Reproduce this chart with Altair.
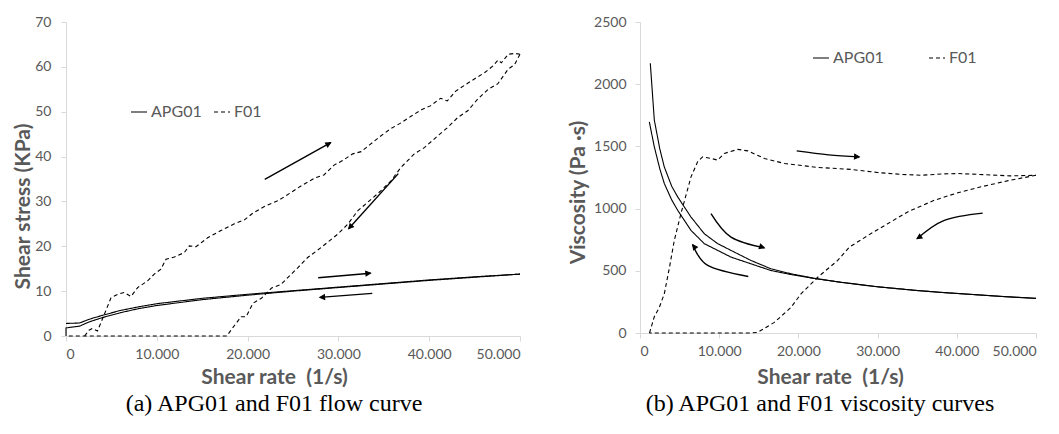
import math
import altair as alt
import pandas as pd

# ------------------------------------------------------------------ data
RATE_MAX = 50000
STRESS_MAX = 70
VISC_MAX = 2500
rate_ticks = [0, 10000, 20000, 30000, 40000, 50000]
stress_ticks = [0, 10, 20, 30, 40, 50, 60, 70]
visc_ticks = [0, 500, 1000, 1500, 2000, 2500]
series_names = ["APG01", "F01"]

# (a) flow curves: shear stress (kPa) vs shear rate (1/s)
apg_up_rate = [0, 1500, 2500, 4000, 6000, 8000, 10000, 15000, 20000, 25000, 30000, 35000, 40000, 45000, 50000]
apg_up_stress = [2.8, 2.9, 3.7, 4.6, 5.7, 6.5, 7.2, 8.4, 9.3, 10.1, 10.9, 11.7, 12.5, 13.2, 13.8]
apg_down_rate = [0, 0, 1500, 2500, 4000, 6000, 8000, 10000, 15000, 20000, 25000, 30000, 35000, 40000, 45000, 50000]
apg_down_stress = [0, 1.8, 2.2, 3.1, 4.1, 5.2, 6.1, 6.8, 8.1, 9.1, 10.0, 10.8, 11.6, 12.4, 13.1, 13.8]

f01_up_rate = [2048, 2532, 2904, 3462, 3855, 4956, 5690, 6424, 7158, 7891, 8993, 9724, 10450, 11013, 11930,
               13030, 13580, 14316, 15602, 17051, 18540, 19657, 20588, 21891, 23381, 24870, 25987, 27476,
               28407, 29524, 30455, 31572, 32502, 33433, 34550, 35667, 36970, 38086, 39203, 40134, 41251,
               41995, 42926, 44043, 44974, 46091, 47021, 47580, 47952, 48697, 49441, 50000]
f01_up_stress = [0, 1.3, 1.7, 1.1, 3.0, 8.5, 9.3, 9.7, 8.8, 10.8, 12.3, 13.8, 14.9, 17.1, 17.6,
                 18.6, 20.1, 19.9, 21.9, 23.5, 25.0, 25.9, 27.4, 28.9, 30.2, 32.1, 33.6, 35.3,
                 35.9, 38.1, 39.1, 40.6, 41.1, 42.6, 44.4, 46.1, 47.6, 49.1, 50.5, 51.3, 53.0,
                 52.4, 54.6, 56.1, 57.3, 58.7, 60.2, 61.5, 60.9, 62.8, 63.0, 62.8]
f01_down_rate = [50000, 49400, 48700, 47545, 46500, 45338, 44240, 43138, 42037, 40936, 39468, 38357,
                 36893, 35792, 34691, 33224, 32123, 31023, 29922, 28084, 26614, 25517, 24416, 23678,
                 22637, 21519, 20588, 19843, 19285, 18727, 18168, 17720, 0]
f01_down_stress = [62.8, 60.5, 59.5, 56.2, 55.0, 52.8, 50.2, 48.7, 46.5, 44.6, 42.0, 40.6,
                   37.6, 34.6, 32.4, 29.8, 27.9, 24.9, 22.7, 19.7, 17.5, 15.2, 13.0, 11.5,
                   10.7, 8.4, 7.3, 4.3, 4.3, 2.8, 1.3, 0, 0]

# (b) viscosity curves: viscosity (Pa s) vs shear rate (1/s)
apg_v_up_rate = [1300, 1806, 2500, 3068, 4000, 4760, 6439, 8119, 9810, 11490, 14015, 16540, 19066,
                 22000, 25379, 30000, 35000, 38005, 42000, 46000, 50000]
apg_v_up = [2169, 1712, 1480, 1335, 1180, 1094, 932, 798, 718, 664, 583, 516, 476,
            440, 408, 372, 342, 327, 310, 293, 279]
apg_v_down_rate = [1174, 1806, 2500, 3068, 4000, 4760, 6439, 8119, 9810, 11490, 14015, 16540, 19066,
                   22000, 25379, 30000, 35000, 38005, 42000, 46000, 50000]
apg_v_down = [1698, 1497, 1320, 1202, 1070, 986, 825, 718, 664, 610, 556, 502, 470,
              438, 407, 371, 341, 326, 309, 292, 278]

f01_v_up_rate = [1200, 1800, 2437, 3068, 3700, 4330, 5170, 6439, 7300, 7917, 8965, 9810, 10650, 12342,
                 13604, 15707, 18232, 22437, 26641, 30000, 33000, 35480, 38000, 40114, 43745, 46723, 50000]
f01_v_up = [0, 130, 206, 315, 520, 744, 960, 1255, 1380, 1416, 1403, 1390, 1444, 1476,
            1464, 1403, 1363, 1331, 1315, 1290, 1275, 1268, 1278, 1282, 1272, 1263, 1268]
f01_v_down_rate = [50000, 46500, 43056, 40000, 37163, 34000, 31275, 28800, 26431, 24962, 22437, 20328,
                   19066, 16960, 14857, 14000, 1200]
f01_v_down = [1268, 1225, 1175, 1125, 1067, 980, 879, 785, 690, 583, 448, 315,
              206, 85, 5, 0, 0]

# direction arrows (start ... tip), in data units
stress_arrow_rate = [[21891, 29150], [36597, 31124], [27773, 33544], [33730, 27959]]
stress_arrow_val = [[34.9, 43.1], [36.2, 23.9], [13.0, 14.0], [9.5, 8.6]]
visc_arrow_rate = [[19785, 23800, 27689], [8965, 11490, 15694], [13674, 8548, 6654], [43270, 38422, 34975]]
visc_arrow_val = [[1464, 1432, 1416], [960, 771, 685], [454, 543, 710], [964, 906, 758]]

# ------------------------------------------------------------------ layout / style
LEFT_W, LEFT_H = 454, 314
RIGHT_W, RIGHT_H = 396, 311
GRAY = "#595959"
AXIS_GRAY = "#d9d9d9"
FONT = "Lato"
X_TITLE = "Shear rate\u00a0 (1/s)"


def lines_df(groups):
    rows = []
    for series, branch, xs, ys in groups:
        for i, (x, y) in enumerate(zip(xs, ys)):
            rows.append(dict(series=series, branch=branch, x=x, y=y, i=i))
    return pd.DataFrame(rows)


def arrows_dfs(xs_list, ys_list, ymax, w, h):
    sx = w / RATE_MAX
    sy = h / ymax
    rows, heads = [], []
    for k, (xs, ys) in enumerate(zip(xs_list, ys_list)):
        for i, (x, y) in enumerate(zip(xs, ys)):
            rows.append(dict(arrow=k, x=x, y=y, i=i))
        dx = (xs[-1] - xs[-2]) * sx
        dy = -(ys[-1] - ys[-2]) * sy
        ang = math.degrees(math.atan2(dy, dx)) % 360
        heads.append(dict(x=xs[-1], y=ys[-1], ang=ang))
    return pd.DataFrame(rows), pd.DataFrame(heads)


def panel(df, arr_df, head_df, ymax, yvals, w, h, ytitle, ytx, yty, xtx, xty, ylabpad,
          legx, legy, colpad, caption, cap_dx, cap_offset):
    x = alt.X("x:Q", scale=alt.Scale(domain=[0, RATE_MAX], nice=False, zero=True),
              axis=alt.Axis(values=rate_ticks,
                            labelExpr="replace(format(datum.value, ','), ',', '.')",
                            title=X_TITLE, titleX=xtx, titleY=xty,
                            titleBaseline="middle", titleAlign="center", labelPadding=6))
    y = alt.Y("y:Q", scale=alt.Scale(domain=[0, ymax], nice=False),
              axis=alt.Axis(values=yvals, format="d", title=ytitle, titleX=ytx, titleY=yty,
                            titleAngle=270, titleAlign="center", titleBaseline="middle",
                            labelPadding=ylabpad))
    data_lines = alt.Chart(df).mark_line(color="black", strokeWidth=1.1, strokeCap="butt").encode(
        x=x, y=y,
        strokeDash=alt.StrokeDash(
            "series:N",
            scale=alt.Scale(domain=series_names, range=[[1, 0], [4, 3]]),
            legend=alt.Legend(title=None, orient="none", legendX=legx, legendY=legy,
                              direction="horizontal", symbolType="stroke", symbolSize=256,
                              symbolStrokeColor="black", symbolStrokeWidth=1.2,
                              labelFont=FONT, labelFontSize=16, labelColor=GRAY,
                              labelOffset=3, columnPadding=colpad, padding=0)),
        detail="branch:N",
        order="i:Q",
    )
    arrow_lines = alt.Chart(arr_df).mark_line(color="black", strokeWidth=1.4,
                                              interpolate="cardinal").encode(
        x="x:Q", y="y:Q", detail="arrow:N", order="i:Q")
    heads = alt.Chart(head_df).mark_point(
        shape="M -1 -0.5 L 0 0 L -1 0.5 Z", filled=True, fill="black", stroke="black",
        strokeWidth=1, size=90, opacity=1).encode(
        x="x:Q", y="y:Q", angle=alt.Angle("ang:Q", scale=None))
    return alt.layer(data_lines, arrow_lines, heads).properties(
        width=w, height=h,
        title=alt.TitleParams(text=caption, orient="bottom", anchor="middle", frame="group",
                              font="Liberation Serif", fontSize=24, fontWeight="normal",
                              color="black", dx=cap_dx, offset=cap_offset))


stress_df = lines_df([
    ("APG01", "apg_up", apg_up_rate, apg_up_stress),
    ("APG01", "apg_down", apg_down_rate, apg_down_stress),
    ("F01", "f01_up", f01_up_rate, f01_up_stress),
    ("F01", "f01_down", f01_down_rate, f01_down_stress),
])
visc_df = lines_df([
    ("APG01", "apg_up", apg_v_up_rate, apg_v_up),
    ("APG01", "apg_down", apg_v_down_rate, apg_v_down),
    ("F01", "f01_up", f01_v_up_rate, f01_v_up),
    ("F01", "f01_down", f01_v_down_rate, f01_v_down),
])
s_arr, s_heads = arrows_dfs(stress_arrow_rate, stress_arrow_val, STRESS_MAX, LEFT_W, LEFT_H)
v_arr, v_heads = arrows_dfs(visc_arrow_rate, visc_arrow_val, VISC_MAX, RIGHT_W, RIGHT_H)

left = panel(stress_df, s_arr, s_heads, STRESS_MAX, stress_ticks, LEFT_W, LEFT_H,
             "Shear stress (KPa)", -43, 184, 208, 41, 10, 64, 81, 9,
             "(a) APG01 and F01 flow curve", -19, 5)
right = panel(visc_df, v_arr, v_heads, VISC_MAX, visc_ticks, RIGHT_W, RIGHT_H,
              "Viscosity (Pa \u00b7s)", -62, 170, 190, 44, 9, 172, 27, 42,
              "(b) APG01 and F01 viscosity curves", -18, 5)

chart = alt.hconcat(left, right, spacing=120, bounds="flush").resolve_scale(
    x="independent", y="independent", strokeDash="independent"
).properties(
    padding={"left": 4, "top": 7, "right": 0, "bottom": 2}
).configure_view(stroke=None).configure_axis(
    grid=False, domainColor=AXIS_GRAY, tickColor=AXIS_GRAY, tickSize=5, domainWidth=1,
    labelColor=GRAY, labelFont=FONT, labelFontSize=14,
    titleColor=GRAY, titleFont=FONT, titleFontSize=21, titleFontWeight="bold",
).configure_title(anchor="middle")

chart.save("out.html", embed_options={"renderer": "svg", "actions": False})
